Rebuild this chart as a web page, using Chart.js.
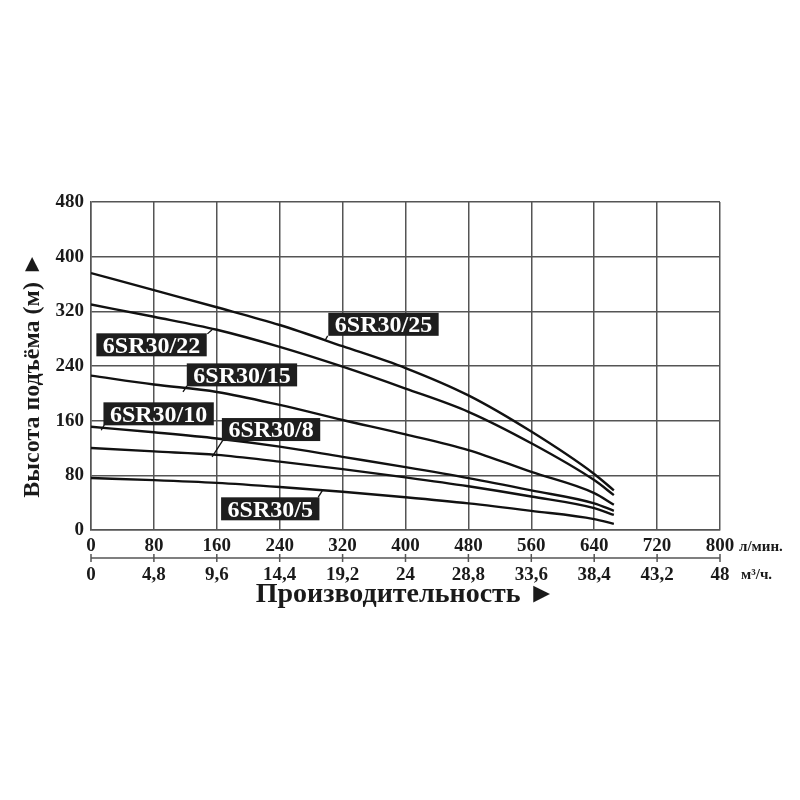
<!DOCTYPE html>
<html><head><meta charset="utf-8">
<script src="https://cdn.jsdelivr.net/npm/chart.js@4.4.1/dist/chart.umd.min.js"></script>
<style>html,body{margin:0;padding:0;background:#fff}</style>
</head><body>
<canvas id="c" width="800" height="800" style="width:800px;height:800px;display:block"></canvas>
<script>
// Flow (l/min) sample points shared by all curves
const flowLmin = [0, 80, 160, 240, 320, 400, 480, 560, 640, 665];
// Head (m) per pump model
const head25 = [376, 351, 326, 300, 269, 237, 197, 144, 82, 58];
const head22 = [330, 312, 293, 268, 239, 207, 173, 127, 73, 51];
const head15 = [226, 213, 202, 183, 161, 140, 117, 85, 54, 37];
const head10 = [151, 143, 134, 122, 107, 92, 76, 58, 39, 28];
const head8  = [120, 115, 110, 100, 89, 77, 64, 49, 32, 22];
const head5  = [76, 73, 69, 63, 56, 48, 39, 28, 16, 9];
const seriesNames = ['6SR30/25', '6SR30/22', '6SR30/15', '6SR30/10', '6SR30/8', '6SR30/5'];
const seriesHeads = [head25, head22, head15, head10, head8, head5];
// Tick labels
const xTicksLmin = ['0','80','160','240','320','400','480','560','640','720','800'];
const xTicksM3 = ['0','4,8','9,6','14,4','19,2','24','28,8','33,6','38,4','43,2','48'];
const yTicks = ['0','80','160','240','320','400','480'];

// Label annotations (data coordinates): box centre and leader line ends
const labelCfg = [
  {name:'6SR30/25', cx:372, cy:301, x1:301, y1:284, x2:298, y2:278},
  {name:'6SR30/22', cx:77,  cy:271, x1:148, y1:287, x2:154, y2:293},
  {name:'6SR30/15', cx:192, cy:227, x1:122, y1:211, x2:117, y2:202},
  {name:'6SR30/10', cx:86,  cy:170, x1:17,  y1:154, x2:13,  y2:146},
  {name:'6SR30/8',  cx:229, cy:147, x1:168, y1:132, x2:154, y2:107},
  {name:'6SR30/5',  cx:228, cy:31,  x1:289, y1:48,  x2:295, y2:59}
];

const SERIF = '"Liberation Serif", "DejaVu Serif", serif';
const GRID = '#555555';

const datasets = seriesNames.map((n, i) => ({
  label: n,
  data: flowLmin.map((f, j) => ({x: f, y: seriesHeads[i][j]})),
  borderColor: '#111111',
  borderWidth: 2.4,
  pointRadius: 0,
  fill: false,
  cubicInterpolationMode: 'monotone'
}));

const overlay = {
  id: 'overlay',
  afterDraw(chart) {
    const ctx = chart.ctx;
    const xs = chart.scales.x, ys = chart.scales.y, x2 = chart.scales.x2;
    ctx.save();
    // second (m3/h) axis line with crossing ticks
    const ly = x2.top + 3;
    ctx.strokeStyle = GRID;
    ctx.lineWidth = 1.5;
    ctx.beginPath();
    ctx.moveTo(xs.left, ly); ctx.lineTo(xs.right, ly);
    x2.ticks.forEach(t => {
      const px = x2.getPixelForValue(t.value);
      ctx.moveTo(px, ly - 4); ctx.lineTo(px, ly + 4);
    });
    ctx.stroke();
    // unit labels
    ctx.fillStyle = '#1a1a1a';
    ctx.font = 'bold 15px ' + SERIF;
    ctx.textAlign = 'left';
    ctx.textBaseline = 'middle';
    ctx.fillText('л/мин.', xs.right + 19, xs.top + 17);
    ctx.fillText('м³/ч.', xs.right + 21, ly + 17);
    // model labels
    ctx.font = 'bold 24px ' + SERIF;
    labelCfg.forEach(l => {
      ctx.strokeStyle = '#111';
      ctx.lineWidth = 1.3;
      ctx.beginPath();
      ctx.moveTo(xs.getPixelForValue(l.x1), ys.getPixelForValue(l.y1));
      ctx.lineTo(xs.getPixelForValue(l.x2), ys.getPixelForValue(l.y2));
      ctx.stroke();
      const cx = xs.getPixelForValue(l.cx), cy = ys.getPixelForValue(l.cy);
      const w = ctx.measureText(l.name).width + 13, h = 23;
      ctx.fillStyle = '#1e1e1e';
      ctx.fillRect(cx - w / 2, cy - h / 2, w, h);
      ctx.fillStyle = '#ffffff';
      ctx.textAlign = 'center';
      ctx.textBaseline = 'middle';
      ctx.fillText(l.name, cx, cy + 1.5);
    });
    ctx.restore();
  }
};

new Chart(document.getElementById('c'), {
  type: 'line',
  data: {datasets},
  options: {
    responsive: false,
    animation: false,
    devicePixelRatio: 1,
    layout: {padding: {left: 14, top: 202, right: 80, bottom: 184}},
    plugins: {legend: {display: false}, tooltip: {enabled: false}},
    scales: {
      x: {
        type: 'linear', position: 'bottom', min: 0, max: 800,
        afterFit: s => { s.height = 25; },
        ticks: {stepSize: 80, padding: 5, color: '#1a1a1a',
          font: {family: SERIF, size: 19, weight: 'bold'},
          callback: (v, i) => xTicksLmin[i]},
        grid: {color: GRID, lineWidth: 1.5, drawTicks: false},
        border: {color: GRID, width: 1.5}
      },
      x2: {
        type: 'linear', position: 'bottom', min: 0, max: 800,
        afterFit: s => { s.height = 61; },
        ticks: {stepSize: 80, padding: 9, color: '#1a1a1a',
          font: {family: SERIF, size: 19, weight: 'bold'},
          callback: (v, i) => xTicksM3[i]},
        grid: {display: false, drawTicks: false},
        border: {display: false},
        title: {display: true, text: 'Производительность ►', color: '#1a1a1a',
          font: {family: SERIF, size: 28, weight: 'bold'}, padding: {top: 0, bottom: 4}}
      },
      y: {
        type: 'linear', min: 0, max: 480,
        afterFit: s => { s.width = 77; },
        ticks: {stepSize: 80, padding: 7, color: '#1a1a1a',
          font: {family: SERIF, size: 19, weight: 'bold'},
          callback: (v, i) => yTicks[i]},
        grid: {color: GRID, lineWidth: 1.5, drawTicks: false},
        border: {color: GRID, width: 1.5},
        title: {display: true, text: 'Высота подъёма (м) ►   ', color: '#1a1a1a',
          font: {family: SERIF, size: 24, weight: 'bold'}, padding: {top: 4, bottom: 0}}
      }
    }
  },
  plugins: [overlay]
});
</script>
</body></html>
